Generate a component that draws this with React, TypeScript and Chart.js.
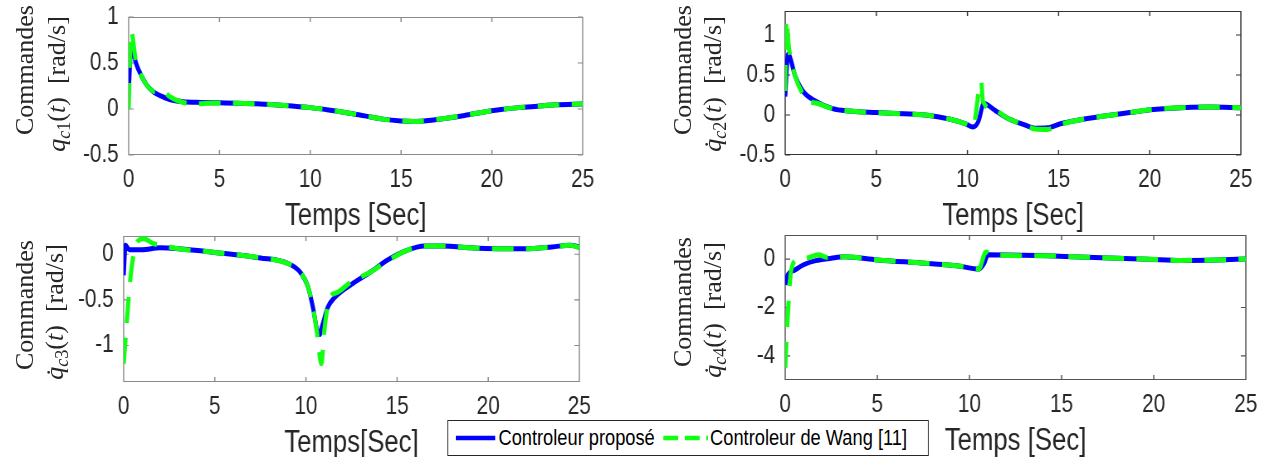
import React, { useEffect, useRef } from "react";
import { Chart, registerables } from "chart.js";
Chart.register(...registerables);

// Horizontal squeeze of the original figure
const SX = 0.83;
const FONT_SANS = '"Liberation Sans", Arial, Helvetica, sans-serif';
const FONT_SERIF = '"Liberation Serif", "Times New Roman", serif';
const BLUE = "#0000ff";
const GREEN = "#11ff11";

// ---------- data ----------
const X_TICKS = [0, 5, 10, 15, 20, 25];

// Panel 1 : q_c1
const Y1_TICKS = [-0.5, 0, 0.5, 1];
const T1_PROP = [0, 0.15, 0.4, 0.7, 1.0, 1.4, 1.8, 2.3, 3, 4, 5, 6, 7, 8, 9, 10, 11, 12, 13, 14, 15, 15.7, 16.5, 17.5, 18.5, 19.5, 20.5, 21.5, 22.5, 23.5, 25];
const Q1_PROP = [0.2, 0.68, 0.5, 0.36, 0.26, 0.18, 0.14, 0.1, 0.08, 0.072, 0.067, 0.062, 0.056, 0.046, 0.032, 0.015, -0.01, -0.04, -0.075, -0.11, -0.13, -0.135, -0.125, -0.1, -0.07, -0.035, -0.005, 0.015, 0.03, 0.045, 0.055];
const T1_WANG = [0, 0.13, 0.4, 0.7, 1.0, 1.4, 1.8, 2.3, 2.7, 3.5, 4, 5, 6, 7, 8, 9, 10, 11, 12, 13, 14, 15, 15.7, 16.5, 17.5, 18.5, 19.5, 20.5, 21.5, 22.5, 23.5, 25];
const Q1_WANG = [0, 0.85, 0.52, 0.36, 0.26, 0.19, 0.2, 0.13, 0.09, 0.055, 0.058, 0.066, 0.062, 0.056, 0.046, 0.032, 0.015, -0.01, -0.04, -0.075, -0.11, -0.13, -0.135, -0.125, -0.1, -0.07, -0.035, -0.005, 0.015, 0.03, 0.045, 0.055];

// Panel 2 : dq_c2
const Y2_TICKS = [-0.5, 0, 0.5, 1];
const T2_PROP = [0, 0.16, 0.56, 1.0, 1.7, 2.6, 3.5, 5, 6.5, 7.7, 9, 9.9, 10.3, 10.6, 10.9, 11.5, 12.2, 13.1, 13.7, 14.4, 15.1, 16.2, 17.3, 18.9, 20.2, 22, 23.3, 25];
const Q2_PROP = [0.23, 0.76, 0.48, 0.29, 0.17, 0.08, 0.05, 0.03, 0.015, 0.0, -0.05, -0.11, -0.15, -0.08, 0.145, 0.06, -0.04, -0.12, -0.165, -0.16, -0.11, -0.06, -0.02, 0.03, 0.07, 0.095, 0.1, 0.09];
const T2_WANG = [0, 0.06, 0.2, 0.56, 1.0, 1.3, 1.7, 2.6, 3.5, 5, 6.5, 7.7, 9, 9.9, 10.3, 10.75, 10.85, 11.5, 12.2, 13.1, 13.7, 14.4, 15.1, 16.2, 17.3, 18.9, 20.2, 22, 23.3, 25];
const Q2_WANG = [0.3, 1.2, 0.85, 0.48, 0.25, 0.17, 0.15, 0.08, 0.05, 0.03, 0.015, 0.0, -0.05, -0.11, -0.15, 0.42, 0.17, 0.06, -0.04, -0.12, -0.175, -0.18, -0.12, -0.06, -0.02, 0.03, 0.07, 0.095, 0.1, 0.09];

// Panel 3 : dq_c3
const Y3_TICKS = [-1, -0.5, 0];
const T3_PROP = [0, 0.1, 0.3, 1, 2, 3, 5, 7.5, 9, 9.7, 10.1, 10.4, 10.6, 10.75, 10.9, 11.2, 11.6, 12.5, 13.5, 14.5, 15.5, 16.5, 17.5, 19, 20.5, 22, 23.5, 24.5, 25];
const Q3_PROP = [-0.23, 0.1, 0.05, 0.05, 0.07, 0.06, 0.02, -0.04, -0.1, -0.2, -0.35, -0.6, -0.82, -0.88, -0.78, -0.58, -0.47, -0.33, -0.2, -0.06, 0.04, 0.09, 0.09, 0.07, 0.06, 0.06, 0.08, 0.1, 0.08];
const T3_WANG = [0, 0.15, 0.35, 0.55, 0.8, 1.1, 1.6, 2.5, 3, 5, 7.5, 9, 9.7, 10.1, 10.4, 10.6, 10.85, 11.0, 11.3, 11.7, 12.5, 13.5, 14.5, 15.5, 16.5, 17.5, 19, 20.5, 22, 23.5, 24.5, 25];
const Q3_WANG = [-1.2, -0.8, -0.3, 0.0, 0.15, 0.17, 0.12, 0.08, 0.06, 0.02, -0.04, -0.1, -0.2, -0.35, -0.6, -0.85, -1.2, -0.85, -0.48, -0.42, -0.3, -0.2, -0.07, 0.04, 0.09, 0.09, 0.07, 0.06, 0.06, 0.08, 0.1, 0.07];

// Panel 4 : dq_c4
const Y4_TICKS = [-4, -2, 0];
const T4_PROP = [0, 0.1, 0.55, 1, 1.65, 2.5, 3.2, 5, 7.6, 9.4, 10.5, 10.8, 11, 14.2, 16.4, 19.7, 21.5, 23.5, 25];
const Q4_PROP = [-1.06, -0.72, -0.44, -0.23, -0.06, 0.04, 0.1, -0.03, -0.17, -0.28, -0.41, -0.17, 0.18, 0.14, 0.08, 0.0, -0.05, -0.03, 0.01];
const T4_WANG = [0, 0.1, 0.33, 0.66, 1.2, 1.8, 2.3, 3.2, 5, 7.6, 9.4, 10.5, 10.9, 11.2, 14.2, 16.4, 19.7, 21.5, 23.5, 25];
const Q4_WANG = [-4.5, -2.9, -0.44, -0.03, 0.05, 0.18, 0.07, 0.1, -0.03, -0.17, -0.28, -0.41, 0.3, 0.18, 0.14, 0.08, 0.0, -0.05, -0.03, 0.01];

const LEGEND_LABELS = ["Controleur proposé", "Controleur de Wang [11]"];

// ---------- layout ----------
const Y_AXIS_W = 80;
const PAD_TOP = 16;
const PAD_RIGHT = 36;
const X_AXIS_H = 84;

type Box = { l: number; t: number; r: number; b: number };

type PanelProps = {
  box: Box;
  yMin: number;
  yMax: number;
  yTicks: number[];
  tProp: number[];
  qProp: number[];
  tWang: number[];
  qWang: number[];
  frameColor: string;
  xTitle: string;
};

function pts(t: number[], v: number[]) {
  return t.map((x, i) => ({ x, y: v[i] }));
}

function Panel(p: PanelProps) {
  const ref = useRef<HTMLCanvasElement>(null);
  const w = Math.round((p.box.r - p.box.l) / SX + Y_AXIS_W + PAD_RIGHT);
  const h = Math.round(p.box.b - p.box.t + PAD_TOP + X_AXIS_H);
  const left = p.box.l / SX - Y_AXIS_W;
  const top = p.box.t - PAD_TOP;

  useEffect(() => {
    const framePlugin = {
      id: "frame",
      beforeDatasetsDraw(chart: any) {
        const { ctx, chartArea } = chart;
        const { left: L, top: T, right: R, bottom: B } = chartArea;
        const xs = chart.scales.x;
        const ys = chart.scales.y;
        ctx.save();
        ctx.strokeStyle = p.frameColor;
        ctx.lineWidth = 1.2;
        ctx.beginPath();
        ctx.moveTo(L, T + 0.5);
        ctx.lineTo(R, T + 0.5);
        ctx.moveTo(L, B - 0.5);
        ctx.lineTo(R, B - 0.5);
        ctx.stroke();
        ctx.lineWidth = 1.2 / SX;
        ctx.beginPath();
        ctx.moveTo(L, T);
        ctx.lineTo(L, B);
        ctx.moveTo(R, T);
        ctx.lineTo(R, B);
        const tl = 5;
        xs.ticks.forEach((tk: any) => {
          const px = xs.getPixelForValue(tk.value);
          ctx.moveTo(px, B);
          ctx.lineTo(px, B - tl);
          ctx.moveTo(px, T);
          ctx.lineTo(px, T + tl);
        });
        ctx.stroke();
        ctx.lineWidth = 1.2;
        ctx.beginPath();
        ys.ticks.forEach((tk: any) => {
          const py = ys.getPixelForValue(tk.value);
          ctx.moveTo(L, py);
          ctx.lineTo(L + tl / SX, py);
          ctx.moveTo(R, py);
          ctx.lineTo(R - tl / SX, py);
        });
        ctx.stroke();
        ctx.restore();
      },
    };

    const chart = new Chart(ref.current as HTMLCanvasElement, {
      type: "line",
      data: {
        datasets: [
          {
            label: LEGEND_LABELS[1],
            data: pts(p.tWang, p.qWang),
            borderColor: GREEN,
            borderWidth: 5,
            borderDash: [26, 15],
            pointRadius: 0,
            cubicInterpolationMode: "monotone",
            fill: false,
            order: 0,
          },
          {
            label: LEGEND_LABELS[0],
            data: pts(p.tProp, p.qProp),
            borderColor: BLUE,
            borderWidth: 5,
            pointRadius: 0,
            cubicInterpolationMode: "monotone",
            fill: false,
            order: 1,
          },
        ],
      },
      options: {
        animation: false,
        responsive: false,
        maintainAspectRatio: false,
        devicePixelRatio: 1,
        layout: { padding: { top: PAD_TOP, right: PAD_RIGHT, left: 0, bottom: 0 } },
        plugins: { legend: { display: false }, tooltip: { enabled: false } },
        events: [],
        scales: {
          x: {
            type: "linear",
            min: 0,
            max: 25,
            afterBuildTicks: (s: any) => {
              s.ticks = X_TICKS.map((v) => ({ value: v }));
            },
            afterFit: (s: any) => {
              s.height = X_AXIS_H;
              s.paddingLeft = 0;
              s.paddingRight = 0;
            },
            ticks: {
              font: { family: FONT_SANS, size: 25 },
              color: "#262626",
              padding: 10,
              maxRotation: 0,
              autoSkip: false,
              callback: (v: any) => String(v),
            },
            grid: { display: false, drawTicks: false },
            border: { display: false },
            title: {
              display: true,
              text: p.xTitle,
              font: { family: FONT_SANS, size: 31 },
              color: "#262626",
              padding: { top: 0, bottom: 4 },
            },
          },
          y: {
            type: "linear",
            min: p.yMin,
            max: p.yMax,
            afterBuildTicks: (s: any) => {
              s.ticks = p.yTicks.map((v) => ({ value: v }));
            },
            afterFit: (s: any) => {
              s.width = Y_AXIS_W;
              s.paddingTop = 0;
              s.paddingBottom = 0;
            },
            ticks: {
              font: { family: FONT_SANS, size: 25 },
              color: "#262626",
              padding: 12,
              autoSkip: false,
              callback: (v: any) => String(v),
            },
            grid: { display: false, drawTicks: false },
            border: { display: false },
          },
        },
      } as any,
      plugins: [framePlugin],
    });
    return () => chart.destroy();
  }, []);

  return (
    <canvas
      ref={ref}
      width={w}
      height={h}
      style={{ position: "absolute", left, top, width: w, height: h }}
    />
  );
}

// Rotated y-axis label, placed in real (unsqueezed) page pixels
function VLabel({ cx, cy, children }: { cx: number; cy: number; children: React.ReactNode }) {
  return (
    <div
      style={{
        position: "absolute",
        left: cx,
        top: cy,
        transform: "translate(-50%, -50%) rotate(-90deg)",
        whiteSpace: "nowrap",
        fontFamily: FONT_SERIF,
        fontSize: 26,
        lineHeight: 1,
        color: "#262626",
      }}
    >
      {children}
    </div>
  );
}

function QLabel({ dot, idx }: { dot: boolean; idx: string }) {
  return (
    <span>
      <i>{dot ? "q\u0307" : "q"}</i>
      <span style={{ fontSize: "0.7em", position: "relative", top: "0.3em" }}>
        <i>c</i>
        {idx}
      </span>
      (<i>t</i>)&nbsp;&nbsp;[rad/s]
    </span>
  );
}

export default function App() {
  const panels: (PanelProps & { key: string })[] = [
    { key: "p1", box: { l: 129, t: 17, r: 583, b: 155 }, yMin: -0.5, yMax: 1, yTicks: Y1_TICKS, tProp: T1_PROP, qProp: Q1_PROP, tWang: T1_WANG, qWang: Q1_WANG, frameColor: "#8a8a8a", xTitle: "Temps [Sec]" },
    { key: "p2", box: { l: 785, t: 11, r: 1241, b: 155 }, yMin: -0.5, yMax: 1.3, yTicks: Y2_TICKS, tProp: T2_PROP, qProp: Q2_PROP, tWang: T2_WANG, qWang: Q2_WANG, frameColor: "#333333", xTitle: "Temps [Sec]" },
    { key: "p3", box: { l: 124, t: 236, r: 580, b: 382 }, yMin: -1.4, yMax: 0.2, yTicks: Y3_TICKS, tProp: T3_PROP, qProp: Q3_PROP, tWang: T3_WANG, qWang: Q3_WANG, frameColor: "#8a8a8a", xTitle: "Temps[Sec]" },
    { key: "p4", box: { l: 785, t: 235, r: 1246, b: 380 }, yMin: -5, yMax: 1, yTicks: Y4_TICKS, tProp: T4_PROP, qProp: Q4_PROP, tWang: T4_WANG, qWang: Q4_WANG, frameColor: "#555555", xTitle: "Temps [Sec]" },
  ];

  const legL = 447 / SX;
  const legW = (929 - 447) / SX;

  return (
    <div style={{ position: "absolute", left: 0, top: 0, width: 1278, height: 457, overflow: "hidden", background: "#fff" }}>
      <div
        style={{
          position: "absolute",
          left: 0,
          top: 0,
          width: 1278 / SX,
          height: 457,
          transform: `scaleX(${SX})`,
          transformOrigin: "0 0",
        }}
      >
        {panels.map(({ key, ...rest }) => (
          <Panel key={key} {...rest} />
        ))}

        <div
          style={{
            position: "absolute",
            left: legL,
            top: 420,
            width: legW,
            height: 36,
            border: "1.2px solid #262626",
            background: "#fff",
            boxSizing: "border-box",
          }}
        >
          <svg style={{ position: "absolute", left: 9, top: 12 }} width={48} height={10}>
            <line x1={0} y1={5} x2={48} y2={5} stroke={BLUE} strokeWidth={4.5} />
          </svg>
          <span style={{ position: "absolute", left: 61, top: 4, fontFamily: FONT_SANS, fontSize: 22, lineHeight: "26px", color: "#000", whiteSpace: "nowrap" }}>
            {LEGEND_LABELS[0]}
          </span>
          <svg style={{ position: "absolute", left: 259, top: 12 }} width={54} height={10}>
            <line x1={0} y1={5} x2={54} y2={5} stroke={GREEN} strokeWidth={4.5} strokeDasharray="18 8" />
          </svg>
          <span style={{ position: "absolute", left: 316, top: 4, fontFamily: FONT_SANS, fontSize: 22, lineHeight: "26px", color: "#000", whiteSpace: "nowrap" }}>
            {LEGEND_LABELS[1]}
          </span>
        </div>
      </div>

      <VLabel cx={25} cy={70}>Commandes</VLabel>
      <VLabel cx={57} cy={84}><QLabel dot={false} idx="1" /></VLabel>
      <VLabel cx={683} cy={70}>Commandes</VLabel>
      <VLabel cx={713} cy={84}><QLabel dot={true} idx="2" /></VLabel>
      <VLabel cx={25} cy={305}>Commandes</VLabel>
      <VLabel cx={55} cy={312}><QLabel dot={true} idx="3" /></VLabel>
      <VLabel cx={683} cy={302}>Commandes</VLabel>
      <VLabel cx={713} cy={310}><QLabel dot={true} idx="4" /></VLabel>
    </div>
  );
}
